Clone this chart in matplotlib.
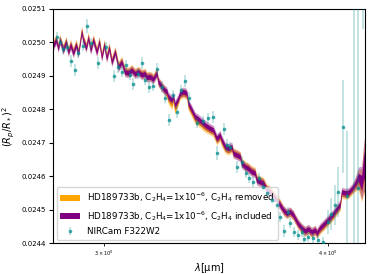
import matplotlib
matplotlib.use('Agg')
import matplotlib.pyplot as plt
import numpy as np

# model wavelengths (micron)
wl_model = [2.810, 2.821, 2.829, 2.835, 2.847, 2.857, 2.866, 2.874, 2.884, 2.894,
            2.903, 2.915, 2.921, 2.932, 2.940, 2.949, 2.959, 2.972, 2.982, 2.991,
            3.001, 3.010, 3.020, 3.030, 3.043, 3.056, 3.069, 3.082, 3.095, 3.109,
            3.122, 3.135, 3.149, 3.162, 3.169, 3.183, 3.196, 3.210, 3.217, 3.231,
            3.242, 3.252, 3.258, 3.273, 3.279, 3.286, 3.298, 3.308, 3.322, 3.336,
            3.343, 3.358, 3.372, 3.386, 3.401, 3.416, 3.438, 3.452, 3.467, 3.482,
            3.490, 3.505, 3.519, 3.535, 3.542, 3.558, 3.573, 3.580, 3.596, 3.611,
            3.627, 3.642, 3.650, 3.666, 3.681, 3.697, 3.713, 3.737, 3.761, 3.777,
            3.793, 3.810, 3.826, 3.834, 3.850, 3.867, 3.884, 3.900, 3.917, 3.934,
            3.943, 3.959, 3.976, 3.994, 4.010, 4.027, 4.045, 4.062, 4.071, 4.088,
            4.106, 4.124, 4.141, 4.159, 4.177, 4.187, 4.195]

# C2H4 included (purple)
depth_included = [0.024989, 0.025007, 0.024983, 0.025007, 0.024977, 0.025001, 0.024971, 0.024992, 0.024968, 0.024992,
                  0.024968, 0.025031, 0.025007, 0.024983, 0.025013, 0.024977, 0.025007, 0.024971, 0.025001, 0.024956,
                  0.024992, 0.024953, 0.024983, 0.024941, 0.024971, 0.024926, 0.024941, 0.024911, 0.024909, 0.024917,
                  0.024906, 0.024912, 0.024903, 0.024906, 0.024896, 0.024897, 0.024890, 0.024908, 0.024882, 0.024868,
                  0.024858, 0.024853, 0.024838, 0.024828, 0.024838, 0.024813, 0.024828, 0.024848, 0.024853, 0.024848,
                  0.024818, 0.024798, 0.024778, 0.024771, 0.024762, 0.024753, 0.024743, 0.024738, 0.024713, 0.024723,
                  0.024708, 0.024688, 0.024683, 0.024688, 0.024668, 0.024663, 0.024658, 0.024638, 0.024628, 0.024623,
                  0.024613, 0.024609, 0.024588, 0.024583, 0.024579, 0.024559, 0.024553, 0.024534, 0.024514, 0.024499,
                  0.024489, 0.024494, 0.024484, 0.024474, 0.024457, 0.024445, 0.024436, 0.024442, 0.024433, 0.024439,
                  0.024430, 0.024445, 0.024455, 0.024466, 0.024476, 0.024487, 0.024502, 0.024514, 0.024553, 0.024550,
                  0.024551, 0.024562, 0.024576, 0.024597, 0.024580, 0.024624, 0.024639]

# C2H4 removed (orange)
depth_removed = [0.024993, 0.025011, 0.024987, 0.025011, 0.024981, 0.025005, 0.024975, 0.024996, 0.024972, 0.024996,
                 0.024972, 0.025035, 0.025011, 0.024987, 0.025017, 0.024981, 0.025011, 0.024975, 0.025005, 0.024960,
                 0.024996, 0.024957, 0.024987, 0.024945, 0.024975, 0.024930, 0.024945, 0.024914, 0.024912, 0.024920,
                 0.024909, 0.024915, 0.024906, 0.024909, 0.024899, 0.024900, 0.024893, 0.024911, 0.024882, 0.024868,
                 0.024858, 0.024845, 0.024830, 0.024813, 0.024830, 0.024798, 0.024820, 0.024843, 0.024848, 0.024843,
                 0.024810, 0.024790, 0.024770, 0.024763, 0.024754, 0.024745, 0.024737, 0.024732, 0.024707, 0.024717,
                 0.024702, 0.024682, 0.024677, 0.024682, 0.024671, 0.024666, 0.024661, 0.024641, 0.024631, 0.024626,
                 0.024617, 0.024613, 0.024592, 0.024587, 0.024583, 0.024563, 0.024557, 0.024538, 0.024518, 0.024497,
                 0.024487, 0.024492, 0.024482, 0.024472, 0.024455, 0.024443, 0.024434, 0.024440, 0.024431, 0.024437,
                 0.024428, 0.024440, 0.024450, 0.024461, 0.024471, 0.024482, 0.024497, 0.024509, 0.024548, 0.024545,
                 0.024546, 0.024557, 0.024571, 0.024589, 0.024572, 0.024616, 0.024631]

# band half-widths (1 and 2 sigma)
sig1 = [7e-6] * 102 + [8e-6, 1.2e-5, 2.2e-5, 3.5e-5, 4.5e-5]
sig2 = [1.4e-5] * 102 + [1.8e-5, 3e-5, 5e-5, 7e-5, 9e-5]

# NIRCam F322W2 data
wl_obs = [2.825, 2.835, 2.847, 2.862, 2.874, 2.890, 2.903, 2.919, 2.934, 2.949,
          2.978, 3.008, 3.040, 3.056, 3.069, 3.086, 3.102, 3.115, 3.134, 3.149,
          3.162, 3.180, 3.196, 3.213, 3.231, 3.245, 3.263, 3.279, 3.294, 3.311,
          3.329, 3.347, 3.379, 3.408, 3.430, 3.450, 3.467, 3.501, 3.512, 3.527,
          3.560, 3.580, 3.600, 3.616, 3.634, 3.662, 3.681, 3.700, 3.721, 3.745,
          3.761, 3.780, 3.798, 3.810, 3.831, 3.850, 3.867, 3.880, 3.900, 3.925,
          3.951, 3.976, 3.998, 4.016, 4.036, 4.054, 4.076, 4.097, 4.138, 4.159,
          4.182]
depth_obs = [0.025016, 0.025001, 0.024980, 0.024986, 0.024944, 0.024917, 0.024968, 0.024989, 0.025049, 0.024998,
             0.024938, 0.024986, 0.024900, 0.024926, 0.024911, 0.024932, 0.024903, 0.024876, 0.024906, 0.024938,
             0.024888, 0.024867, 0.024870, 0.024920, 0.024867, 0.024834, 0.024768, 0.024843, 0.024792, 0.024858,
             0.024885, 0.024834, 0.024759, 0.024765, 0.024774, 0.024777, 0.024669, 0.024741, 0.024693, 0.024687,
             0.024627, 0.024642, 0.024609, 0.024594, 0.024582, 0.024594, 0.024568, 0.024550, 0.024529, 0.024514,
             0.024478, 0.024437, 0.024494, 0.024460, 0.024434, 0.024424, 0.024434, 0.024411, 0.024419, 0.024414,
             0.024409, 0.024404, 0.024463, 0.024487, 0.024514, 0.024553, 0.024748, 0.024541, 0.024380, 0.024564,
             0.025400]
err_obs = [1.5e-5, 1.2e-5, 1.5e-5, 1.5e-5, 1.8e-5, 1.8e-5, 1.5e-5, 1.5e-5, 2.1e-5, 1.5e-5,
           1.8e-5, 1.5e-5, 1.8e-5, 1.8e-5, 1.5e-5, 1.5e-5, 1.5e-5, 1.8e-5, 1.5e-5, 1.8e-5,
           1.5e-5, 1.8e-5, 1.5e-5, 1.8e-5, 1.8e-5, 1.5e-5, 1.8e-5, 1.5e-5, 1.8e-5, 1.5e-5,
           1.8e-5, 1.8e-5, 1.5e-5, 1.5e-5, 1.5e-5, 1.8e-5, 2.1e-5, 1.8e-5, 1.8e-5, 1.5e-5,
           1.8e-5, 1.8e-5, 1.5e-5, 1.5e-5, 1.5e-5, 1.5e-5, 1.5e-5, 1.5e-5, 1.5e-5, 1.5e-5,
           1.5e-5, 1.8e-5, 1.5e-5, 1.5e-5, 1.5e-5, 1.5e-5, 1.5e-5, 1.5e-5, 1.5e-5, 1.5e-5,
           1.5e-5, 1.5e-5, 3.6e-5, 4.8e-5, 6.0e-5, 7.5e-5, 1.4e-4, 1.95e-4, 8e-4, 9e-4,
           3.6e-4]

wl = np.array(wl_model)
inc = np.array(depth_included)
rem = np.array(depth_removed)
s1 = np.array(sig1)
s2 = np.array(sig2)

fig = plt.figure(figsize=(3.73, 2.74), dpi=100)
ax = fig.add_axes([0.1421, 0.1131, 0.8365, 0.8541])

ax.fill_between(wl, rem - s2, rem + s2, color='orange', alpha=0.45, lw=0)
ax.fill_between(wl, rem - s1, rem + s1, color='orange', lw=0,
                label=r'HD189733b, C$_2$H$_4$=1x10$^{-6}$, C$_2$H$_4$ removed')
ax.fill_between(wl, inc - s2, inc + s2, color='purple', alpha=0.4, lw=0)
ax.fill_between(wl, inc - s1, inc + s1, color='purple', lw=0,
                label=r'HD189733b, C$_2$H$_4$=1x10$^{-6}$, C$_2$H$_4$ included')

eb = ax.errorbar(wl_obs, depth_obs, yerr=err_obs, fmt='o', color='darkcyan',
                 ms=2.6, mew=0, elinewidth=1.1, alpha=0.75, zorder=5,
                 label='NIRCam F322W2')
eb[2][0].set_alpha(0.3)

ax.set_xscale('log')
ax.set_xlim(2.81, 4.195)
ax.set_ylim(0.0244, 0.0251)
ax.set_yticks(np.arange(0.0244, 0.02511, 0.0001))
ax.yaxis.set_major_formatter(matplotlib.ticker.FormatStrFormatter('%.4f'))
ax.tick_params(axis='y', labelsize=5, length=3, width=0.8, pad=2)
ax.tick_params(axis='x', which='minor', labelsize=3.5, length=2, pad=2)

ax.set_xlabel(r'$\lambda$[$\mathrm{\mu}$m]', fontsize=7, labelpad=2)
ax.set_ylabel(r'$(R_p/R_*)^2$', fontsize=7, labelpad=3)

ax.legend(loc='lower left', fontsize=6.3, handlelength=2.3, borderaxespad=0.4)

fig.savefig('out.png', dpi=100)
